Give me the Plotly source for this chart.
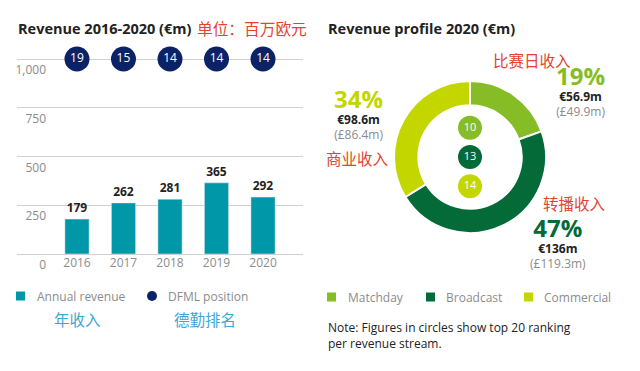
import plotly.graph_objects as go

# ---- data ----
years = ["2016", "2017", "2018", "2019", "2020"]
revenue = [179, 262, 281, 365, 292]
dfml_position = [19, 15, 14, 14, 14]
rank_level = [1000, 1000, 1000, 1000, 1000]

streams = ["Matchday", "Broadcast", "Commercial"]
stream_eur = [56.9, 136, 98.6]
stream_gbp = [49.9, 119.3, 86.4]
stream_pct = [19, 47, 34]
stream_rank = [10, 13, 14]
stream_cn = ["比赛日收入", "转播收入", "商业收入"]

y_ticks = [0, 250, 500, 750, 1000]
y_tick_text = ["0", "250", "500", "750", "1,000"]

# ---- style ----
W, H = 640, 371
OX, OY = 8, 8  # page body margin compensation
TEAL = "#0097a9"
NAVY = "#0c2266"
GREEN = "#86bc25"
DKGREEN = "#046a38"
LIME = "#c4d600"
RED = "#e2432f"
LBLUE = "#3ea6d6"
GRAY = "#8c8c8c"
DARK = "#222222"
FONT = "Open Sans, Noto Sans CJK SC, sans-serif"
CJK = "Noto Sans CJK SC, sans-serif"
stream_colors = [GREEN, DKGREEN, LIME]


def px(x):
    return (x - OX) / W


def py(y):
    return 1 - (y - OY) / H


fig = go.Figure()

fig.add_trace(go.Bar(
    x=years, y=revenue, marker_color=TEAL, width=0.52,
    text=revenue, textposition="outside", cliponaxis=False,
    textfont=dict(family=FONT, size=12, color=DARK, weight="bold"),
    showlegend=False, hoverinfo="skip",
))
fig.add_trace(go.Scatter(
    x=years, y=rank_level, mode="markers+text", text=dfml_position,
    textposition="middle center", cliponaxis=False,
    marker=dict(size=25, color=NAVY),
    textfont=dict(family=FONT, size=12, color="white"),
    showlegend=False, hoverinfo="skip",
))

# donut
d_cx, d_cy, d_r = 470, 157, 76
fig.add_trace(go.Pie(
    labels=streams, values=stream_eur, hole=0.68, sort=False,
    direction="clockwise", rotation=0,
    marker=dict(colors=stream_colors, line=dict(color="white", width=2)),
    textinfo="none", showlegend=False, hoverinfo="skip", automargin=False,
    domain=dict(x=[px(d_cx - d_r), px(d_cx + d_r)], y=[py(d_cy + d_r), py(d_cy - d_r)]),
))
# rank circles inside donut
fig.add_trace(go.Scatter(
    x=[0, 0, 0], y=streams, mode="markers+text", text=stream_rank,
    textposition="middle center", xaxis="x2", yaxis="y2",
    marker=dict(size=24, color=stream_colors),
    textfont=dict(family=FONT, size=11, color="white"),
    showlegend=False, hoverinfo="skip", cliponaxis=False,
))

y0_px, per1000 = 254, 195
top_val = 1025
fig.update_layout(
    width=W, height=H, margin=dict(l=0, r=0, t=0, b=0, pad=0),
    showlegend=False,
    paper_bgcolor="white", plot_bgcolor="white",
    font=dict(family=FONT, size=12, color=DARK),
    xaxis=dict(domain=[px(17), px(303)], type="category", range=[-1.29, 4.86],
               showgrid=False, showline=False, zeroline=False, ticks="",
               automargin=False,
               tickfont=dict(family=FONT, size=12, color=GRAY), fixedrange=True),
    yaxis=dict(domain=[py(y0_px), py(y0_px - top_val * per1000 / 1000)],
               range=[0, top_val], tickvals=y_ticks, ticktext=y_tick_text,
               showgrid=True, gridcolor="#d0d0d0", gridwidth=1,
               zeroline=True, zerolinecolor="#d0d0d0", zerolinewidth=1,
               showline=False, ticks="", ticklabelstandoff=-30, ticklabelshift=11,
               automargin=False,
               tickfont=dict(family=FONT, size=12, color=GRAY), fixedrange=True),
    xaxis2=dict(domain=[px(d_cx - d_r), px(d_cx + d_r)], range=[-1, 1], visible=False,
                anchor="y2", automargin=False, fixedrange=True),
    yaxis2=dict(domain=[py(d_cy + d_r), py(d_cy - d_r)], type="category",
                categoryorder="array", categoryarray=streams[::-1],
                range=[1 - 2.6, 1 + 2.6], visible=False, anchor="x2",
                automargin=False, fixedrange=True),
)

ann = []


def text(x, y, s, size=12, color=DARK, bold=False, anchor="left", family=FONT):
    ann.append(dict(x=px(x), y=py(y), xref="paper", yref="paper", text=s,
                    showarrow=False, xanchor=anchor, yanchor="middle",
                    font=dict(family=family, size=size, color=color,
                              weight="bold" if bold else "normal")))


# titles
text(16, 29, "Revenue 2016-2020 (€m)", size=14.5, bold=True)
text(195, 29, "单位：百万欧元", size=15.7, color=RED, family=CJK)
text(326, 29, "Revenue profile 2020 (€m)", size=14.5, bold=True)

# donut slice labels: block x, block centre y, chinese label x, y
blocks = [(580, 89.5, 532, 60), (558, 241.5, 574, 203), (358, 112.5, 357, 158)]
for i in range(3):
    bx, by, cnx, cny = blocks[i]
    s = (f"<span style='font-size:24px;color:{stream_colors[i]}'><b>{stream_pct[i]}%</b></span>"
         f"<br><b>€{stream_eur[i]:g}m</b>"
         f"<br><span style='color:{GRAY}'>(£{stream_gbp[i]:g}m)</span>")
    text(bx, by, s, size=12, anchor="center")
    text(cnx, cny, stream_cn[i], size=15.5, color=RED, anchor="center", family=CJK)

# left legend
shapes = []
shapes.append(dict(type="rect", xref="paper", yref="paper", x0=px(16), x1=px(25),
                   y0=py(300.5), y1=py(291.5), fillcolor=TEAL, line_width=0))
shapes.append(dict(type="circle", xref="paper", yref="paper", x0=px(147), x1=px(157),
                   y0=py(301), y1=py(291), fillcolor=NAVY, line_width=0))
text(35, 296, "Annual revenue", size=12, color=GRAY)
text(166, 296, "DFML position", size=12, color=GRAY)
text(52, 319, "年收入", size=15.5, color=LBLUE, family=CJK)
text(172, 319, "德勤排名", size=15.5, color=LBLUE, family=CJK)

# right legend
leg_x = [(327, 346), (426, 444), (524, 542)]
for i, (sx, tx) in enumerate(leg_x):
    shapes.append(dict(type="rect", xref="paper", yref="paper", x0=px(sx), x1=px(sx + 9),
                       y0=py(301.5), y1=py(292.5), fillcolor=stream_colors[i], line_width=0))
    text(tx, 297, streams[i], size=12, color=GRAY)

text(326, 327, "Note: Figures in circles show top 20 ranking", size=12)
text(326, 343, "per revenue stream.", size=12)

fig.update_layout(annotations=ann, shapes=shapes)
fig.write_html("out.html")
